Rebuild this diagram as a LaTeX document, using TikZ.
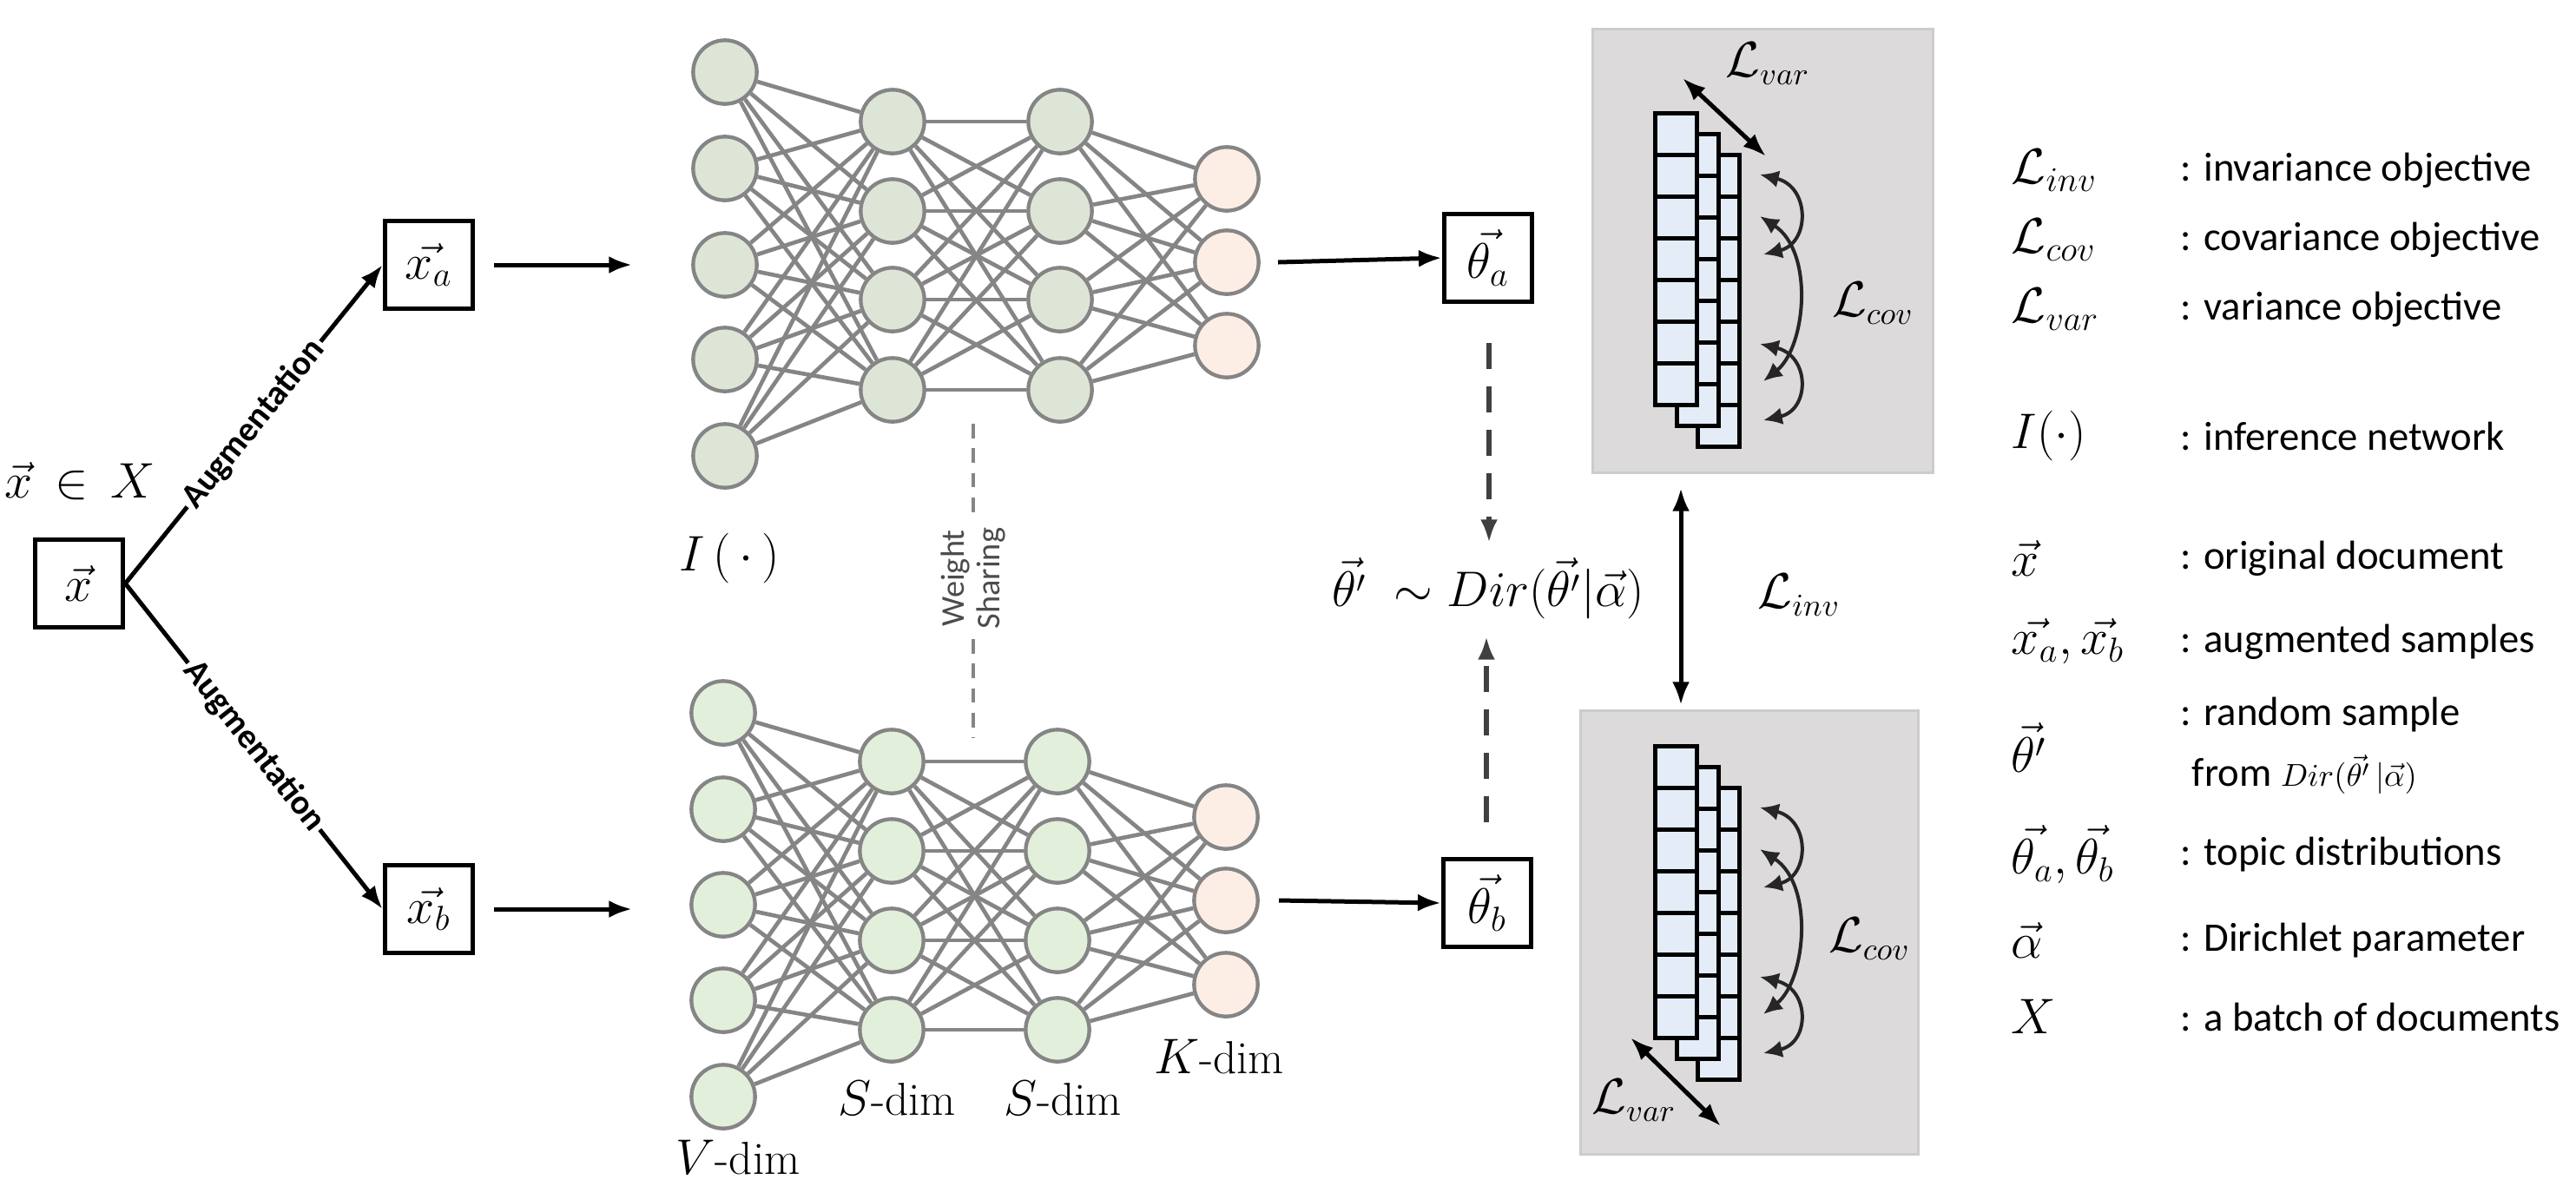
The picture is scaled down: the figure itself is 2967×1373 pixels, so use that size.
\documentclass[tikz,border=0pt]{standalone}
\usepackage{fontspec}
\usetikzlibrary{arrows.meta}
\newfontfamily\carl{Carlito}
\definecolor{netgray}{HTML}{858585}
\definecolor{ing}{HTML}{DDE6D6}
\definecolor{inb}{HTML}{E2EFDA}
\definecolor{outc}{HTML}{FCEEE4}
\definecolor{boxg}{HTML}{DCDADB}
\definecolor{cell}{HTML}{E4EDF7}
\begin{document}
\begin{tikzpicture}[x=0.3pt,y=-0.3pt,
  neuron/.style={circle,draw=netgray,line width=1.3pt,minimum size=22pt,inner sep=0pt},
  edge/.style={netgray,line width=1.4pt},
  mbox/.style={draw,line width=1.5pt,minimum size=30.5pt,inner sep=0pt,font=\fontsize{17}{20}\selectfont},
  arr/.style={line width=1.5pt,-{Latex[length=8pt,width=6pt]}},
  darr/.style={line width=1.5pt,{Latex[length=8pt,width=6pt]}-{Latex[length=8pt,width=6pt]}},
  dsharr/.style={line width=1.8pt,color=black!75,dash pattern=on 9pt off 6pt,-{Latex[length=8pt,width=6pt]}},
  carr/.style={line width=1.2pt,color=black!85,{Latex[length=6.5pt,width=6pt]}-{Latex[length=6.5pt,width=6pt]}},
  cellst/.style={draw,line width=1.5pt,fill=cell},
  gbox/.style={draw=black!20,line width=0.9pt,fill=boxg},
  lab/.style={font=\fontsize{16}{19}\selectfont},
  leg/.style={anchor=west,font=\fontsize{17}{20}\selectfont},
  legt/.style={anchor=west,font=\carl\fontsize{14}{17}\selectfont},
  aug/.style={sloped,fill=white,inner sep=1pt,font=\carl\bfseries\fontsize{12}{14}\selectfont}
]
\useasboundingbox (0,0) rectangle (2967,1373);

% ---------- left part
\node[mbox] (x) at (91,672) {$\vec{x}$};
\node[lab] (xin) at (92,554) {$\vec{x}\,\in\,X$};
\node[mbox] (xa) at (494,305) {$\vec{x_a}$};
\node[mbox] (xb) at (494,1047) {$\vec{x_b}$};
\draw[arr] (x.east) -- node[aug] {Augmentation} (xa.west);
\draw[arr] (x.east) -- node[aug] {Augmentation} (xb.west);
\coordinate (xae) at (569,305);
\coordinate (xbe) at (569,1047);
\coordinate (ina) at (728,305);
\coordinate (inb) at (728,1047);
\draw[arr] (xae) -- (ina);
\draw[arr] (xbe) -- (inb);

% ---------- networks
\foreach \p/\off/\fc in {t/0/ing, b/1/inb}{
  \ifnum\off=0
    \foreach \i/\y in {1/83,2/194,3/305,4/414,5/525} \node[neuron,fill=\fc] (\p1-\i) at (835,\y) {};
    \foreach \i/\y in {1/140,2/243,3/345,4/449} \node[neuron,fill=\fc] (\p2-\i) at (1028,\y) {};
    \foreach \i/\y in {1/140,2/243,3/345,4/449} \node[neuron,fill=\fc] (\p3-\i) at (1221,\y) {};
    \foreach \i/\y in {1/206,2/302,3/398} \node[neuron,fill=outc] (\p4-\i) at (1413,\y) {};
  \else
    \foreach \i/\y in {1/821,2/932,3/1042,4/1152,5/1263} \node[neuron,fill=\fc] (\p1-\i) at (833,\y) {};
    \foreach \i/\y in {1/877,2/980,3/1083,4/1186} \node[neuron,fill=\fc] (\p2-\i) at (1027,\y) {};
    \foreach \i/\y in {1/877,2/980,3/1083,4/1186} \node[neuron,fill=\fc] (\p3-\i) at (1218,\y) {};
    \foreach \i/\y in {1/941,2/1037,3/1134} \node[neuron,fill=outc] (\p4-\i) at (1412,\y) {};
  \fi
  \foreach \i in {1,...,5} \foreach \j in {1,...,4} \draw[edge] (\p1-\i) -- (\p2-\j);
  \foreach \i in {1,...,4} \foreach \j in {1,...,4} \draw[edge] (\p2-\i) -- (\p3-\j);
  \foreach \i in {1,...,4} \foreach \j in {1,...,3} \draw[edge] (\p3-\i) -- (\p4-\j);
}
\node[lab] (Ilab) at (840,643) {$I\,(\,\cdot\,)$};
\node[lab] (vd) at (850,1333) {$V$-dim};
\node[lab] (sd1) at (1033,1265) {$S$-dim};
\node[lab] (sd2) at (1224,1265) {$S$-dim};
\node[lab] (kd) at (1404,1217) {$K$-dim};

% weight sharing
\node[rotate=90,align=center,text=black!70,font=\carl\fontsize{11.5}{12.5}\selectfont] (ws) at (1121,666) {Weight\\Sharing};
\coordinate (ws1) at (1121,488);
\coordinate (ws2) at (1121,850);
\draw[netgray,line width=1.2pt,dash pattern=on 5pt off 3.5pt] (ws1) -- (ws.east);
\draw[netgray,line width=1.2pt,dash pattern=on 5pt off 3.5pt] (ws.west) -- (ws2);

% ---------- thetas
\node[mbox] (tha) at (1714,297) {$\vec{\theta_a}$};
\node[mbox] (thb) at (1713,1040) {$\vec{\theta_b}$};
\coordinate (oa) at (1472,302);
\coordinate (ob) at (1473,1037);
\draw[arr] (oa) -- (tha.west);
\draw[arr] (ob) -- (thb.west);
\node[lab] (dir) at (1714,678) {$\vec{\theta'}\ \sim Dir(\vec{\theta'}|\vec{\alpha})$};
\coordinate (da) at (1715,395);
\coordinate (db) at (1712,947);
\coordinate (dae) at (1715,625);
\coordinate (dbe) at (1712,733);
\draw[dsharr] (da) -- (dae);
\draw[dsharr] (db) -- (dbe);

% ---------- gray boxes
\node[gbox,minimum width=117.6pt,minimum height=153.3pt,inner sep=0pt] (gt) at (2030,289) {};
\node[gbox,minimum width=116.7pt,minimum height=153.3pt,inner sep=0pt] (gb) at (2015,1074) {};
\foreach \yo in {0,729}{
  \foreach \cx/\cy in {1955/178,1931/154,1906/130}{
    \foreach \k in {0,...,6}
      \draw[cellst] (\cx,\cy+\yo+48*\k) rectangle (\cx+48,\cy+\yo+48*\k+48);
  }
  \draw[carr] (2027,201+\yo) .. controls (2085,215+\yo) and (2085,280+\yo) .. (2031,293+\yo);
  \draw[carr] (2027,249+\yo) .. controls (2090,290+\yo) and (2080,400+\yo) .. (2031,439+\yo);
  \draw[carr] (2027,396+\yo) .. controls (2085,410+\yo) and (2085,472+\yo) .. (2031,484+\yo);
}
\node[lab] (lct) at (2157,349) {$\mathcal{L}_{cov}$};
\node[lab] (lcb) at (2153,1081) {$\mathcal{L}_{cov}$};
\coordinate (v1) at (1938,90); \coordinate (v2) at (2034,180);
\draw[darr] (v1) -- (v2);
\node[lab] (lvt) at (2036,73) {$\mathcal{L}_{var}$};
\coordinate (v3) at (1878,1195); \coordinate (v4) at (1982,1297);
\draw[darr] (v3) -- (v4);
\node[lab] (lvb) at (1882,1267) {$\mathcal{L}_{var}$};
\coordinate (i1) at (1936,562); \coordinate (i2) at (1936,812);
\draw[darr] (i1) -- (i2);
\node[lab] (linv) at (2072,685) {$\mathcal{L}_{inv}$};

% ---------- legend
\foreach \s/\t/\y in {{$\mathcal{L}_{inv}$}/{: invariance objective}/196,
  {$\mathcal{L}_{cov}$}/{: covariance objective}/276,
  {$\mathcal{L}_{var}$}/{: variance objective}/356,
  {$I(\cdot)$}/{: inference network}/502,
  {$\vec{x}$}/{: original document}/643,
  {$\vec{x_a},\vec{x_b}$}/{: augmented samples}/739,
  {$\vec{\theta'}$}/{}/861,
  {$\vec{\theta_a},\vec{\theta_b}$}/{: topic distributions}/984,
  {$\vec{\alpha}$}/{: Dirichlet parameter}/1083,
  {$X$}/{: a batch of documents}/1171}{
  \node[leg] at (2305,\y) {\s};
  \node[legt] at (2500,\y) {\t};
}
\node[legt] (rs) at (2500,823) {: random sample};
\node[legt] (fr) at (2513,892) {from {\fontsize{11}{13}\selectfont$Dir(\vec{\theta'}\,|\vec{\alpha})$}};
\end{tikzpicture}
\end{document}
